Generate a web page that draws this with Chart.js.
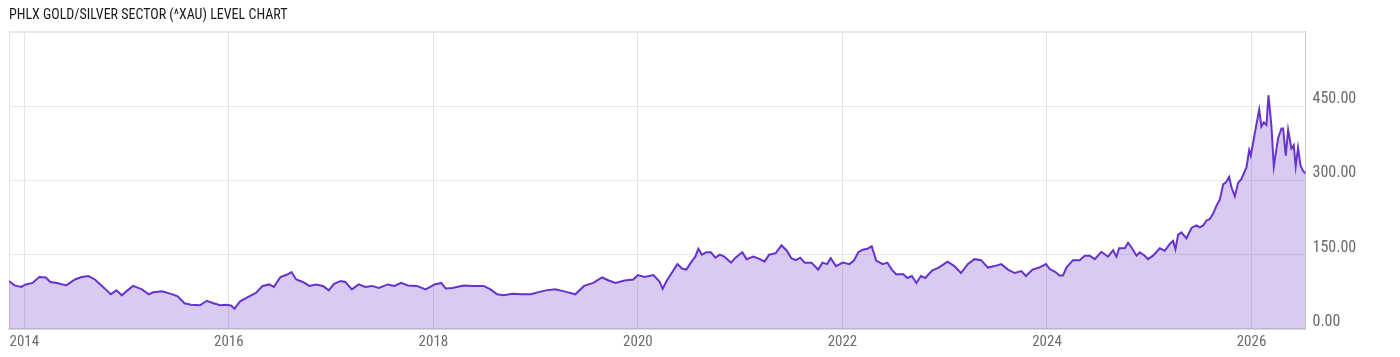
<!DOCTYPE html>
<html><head><meta charset="utf-8">
<script src="https://cdn.jsdelivr.net/npm/chart.js@4"></script>
<style>html,body{margin:0;padding:0;background:#fff}#wrap{width:1400px;height:357px;position:relative}</style>
</head><body><div id="wrap"><canvas id="c"></canvas></div>
<script>
const chartTitle = 'PHLX GOLD/SILVER SECTOR (^XAU) LEVEL CHART';

// dates as decimal years
const dates = [
2013.848,2013.905,2013.970,2014.015,2014.080,2014.146,2014.210,2014.255,2014.320,2014.410,
2014.495,2014.560,2014.626,2014.690,2014.780,2014.845,2014.900,2014.954,2014.997,2015.063,
2015.150,2015.216,2015.260,2015.346,2015.434,2015.500,2015.566,2015.630,2015.718,2015.784,
2015.850,2015.915,2015.980,2016.024,2016.055,2016.110,2016.199,2016.264,2016.330,2016.395,
2016.440,2016.505,2016.570,2016.613,2016.658,2016.723,2016.789,2016.854,2016.920,2016.977,
2017.028,2017.094,2017.138,2017.203,2017.269,2017.335,2017.400,2017.466,2017.553,2017.618,
2017.684,2017.750,2017.837,2017.924,2018.012,2018.077,2018.120,2018.186,2018.296,2018.383,
2018.492,2018.558,2018.623,2018.689,2018.776,2018.863,2018.951,2019.038,2019.103,2019.190,
2019.278,2019.387,2019.474,2019.563,2019.650,2019.715,2019.780,2019.868,2019.955,2019.999,
2020.065,2020.152,2020.211,2020.242,2020.277,2020.321,2020.386,2020.430,2020.474,2020.517,
2020.561,2020.591,2020.626,2020.670,2020.713,2020.757,2020.801,2020.845,2020.910,2020.954,
2021.020,2021.063,2021.128,2021.194,2021.238,2021.282,2021.347,2021.404,2021.456,2021.500,
2021.544,2021.587,2021.631,2021.697,2021.762,2021.805,2021.849,2021.885,2021.937,2022.002,
2022.068,2022.112,2022.155,2022.199,2022.243,2022.286,2022.330,2022.395,2022.439,2022.483,
2022.527,2022.592,2022.636,2022.679,2022.723,2022.767,2022.810,2022.876,2022.941,2023.028,
2023.094,2023.159,2023.225,2023.291,2023.356,2023.422,2023.487,2023.553,2023.619,2023.684,
2023.750,2023.794,2023.859,2023.924,2023.990,2024.027,2024.075,2024.124,2024.157,2024.190,
2024.254,2024.320,2024.369,2024.418,2024.467,2024.532,2024.597,2024.646,2024.679,2024.705,
2024.760,2024.793,2024.826,2024.875,2024.907,2024.956,2024.988,2025.037,2025.103,2025.152,
2025.201,2025.233,2025.256,2025.282,2025.315,2025.364,2025.413,2025.462,2025.494,2025.527,
2025.560,2025.592,2025.625,2025.658,2025.690,2025.723,2025.750,2025.781,2025.804,2025.837,
2025.869,2025.902,2025.935,2025.951,2025.977,2025.993,2026.032,2026.075,2026.097,2026.120,
2026.146,2026.166,2026.195,2026.218,2026.260,2026.293,2026.309,2026.335,2026.358,2026.390,
2026.413,2026.432,2026.455,2026.479,2026.504,2026.528
];

const xauLevel = [
97,88,85,90,93,105,104,95,93,88,
100,105,107,100,83,70,78,68,76,87,
80,70,74,76,71,66,52,49,48,57,
52,48,49,47,41,56,66,73,87,90,
85,105,110,115,100,95,87,90,87,78,
91,97,95,80,90,85,87,83,90,87,
93,88,87,80,90,93,82,83,88,87,
87,80,70,68,71,70,70,75,78,80,
76,70,87,93,104,98,93,98,100,109,
105,109,96,81,96,110,131,122,120,134,
146,162,150,155,155,144,150,146,134,144,
155,141,146,141,136,150,153,169,158,143,
139,144,134,134,120,134,131,143,127,134,
131,138,155,160,162,167,138,131,134,120,
110,111,103,107,93,107,103,118,124,136,
127,113,131,141,139,124,127,131,120,113,
117,107,120,124,131,121,116,108,108,124,
139,139,148,148,141,156,146,159,146,163,
163,174,165,148,155,148,141,148,163,158,
172,178,161,190,195,183,204,209,205,209,
219,222,233,249,261,292,296,307,286,268,
295,303,319,326,361,350,395,443,409,417,
412,472,409,328,385,405,405,350,402,364,
371,328,366,330,319,314
];

const xTickYears = [2014,2016,2018,2020,2022,2024,2026];
const xTickLabels = ['2014','2016','2018','2020','2022','2024','2026'];
const yTickValues = [0,150,300,450,600];
const yTickLabels = ['0.00','150.00','300.00','450.00',''];
const xRange = [2013.85, 2026.528];
const yRange = [0, 600];

const FONT = "'Roboto Condensed', 'Liberation Sans Narrow', 'DejaVu Sans Condensed', Roboto, sans-serif";
const points = dates.map((d, i) => ({x: d, y: xauLevel[i]}));

new Chart(document.getElementById('c'), {
  type: 'line',
  data: { datasets: [{
    data: points,
    borderColor: '#6633cc',
    borderWidth: 2,
    backgroundColor: 'rgba(110,60,200,0.27)',
    fill: 'origin',
    pointRadius: 0,
    tension: 0
  }]},
  options: {
    responsive: true,
    maintainAspectRatio: false,
    animation: false,
    layout: { padding: { left: 9, right: 0, top: 0, bottom: 2 } },
    plugins: {
      legend: { display: false },
      tooltip: { enabled: false },
      title: {
        display: true, text: chartTitle, align: 'start', color: '#1a1a1a',
        font: { family: FONT, size: 14, weight: 'normal' },
        padding: { top: 7, bottom: 8 }
      }
    },
    scales: {
      x: {
        type: 'linear', min: xRange[0], max: xRange[1],
        afterBuildTicks: s => { s.ticks = [{value: xRange[0]}].concat(xTickYears.map(v => ({value: v}))); },
        ticks: {
          autoSkip: false, maxRotation: 0, padding: 4, color: '#6b6b6b',
          font: { family: FONT, size: 15 },
          callback: (v) => { const i = xTickYears.indexOf(v); return i < 0 ? '' : xTickLabels[i]; }
        },
        grid: { color: '#e4e4e4', drawTicks: false, lineWidth: 1 },
        border: { display: true, color: '#dcdcdc', width: 2 }
      },
      y: {
        position: 'right', min: yRange[0], max: yRange[1],
        afterBuildTicks: s => { s.ticks = yTickValues.map(v => ({value: v})); },
        afterFit: s => { s.width = 94.5; },
        ticks: {
          padding: 7, labelOffset: -7, color: '#6b6b6b',
          font: { family: FONT, size: 16 },
          callback: (v) => { const i = yTickValues.indexOf(v); return i < 0 ? '' : yTickLabels[i]; }
        },
        grid: { color: '#e8e8e8', drawTicks: false,
          lineWidth: c => (c.tick && c.tick.value === yRange[1]) ? 2 : 1 },
        border: { display: true, color: '#c8c8c8', width: 1 }
      }
    }
  }
});
</script></body></html>
